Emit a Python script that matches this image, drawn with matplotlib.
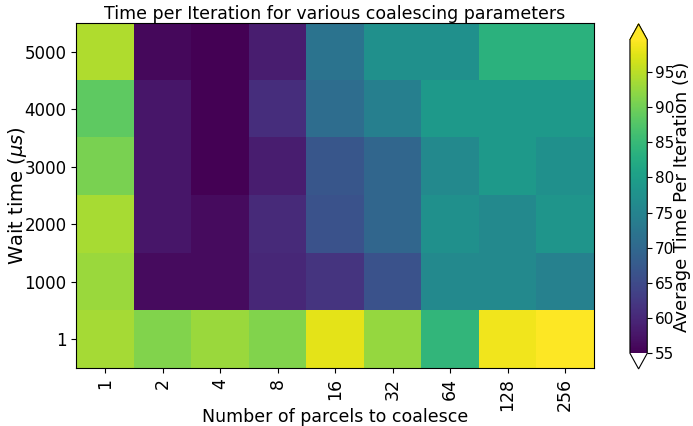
import numpy as np
import matplotlib
matplotlib.use("Agg")
import matplotlib.pyplot as plt

parcels = ["1", "2", "4", "8", "16", "32", "64", "128", "256"]
wait_times = ["1", "1000", "2000", "3000", "4000", "5000"]

# Average time per iteration (s); rows follow wait_times, columns follow parcels
t_wait_1 = [93.6, 91.1, 92.9, 91.1, 97.8, 92.5, 84.4, 98.7, 99.6]
t_wait_1000 = [92.9, 56.3, 56.3, 59.9, 61.7, 66.2, 76.0, 76.0, 74.6]
t_wait_2000 = [93.8, 57.7, 56.3, 60.4, 66.2, 69.7, 77.3, 76.0, 78.2]
t_wait_3000 = [90.7, 57.7, 55.0, 58.6, 67.0, 69.7, 76.0, 79.0, 77.3]
t_wait_4000 = [88.5, 57.7, 55.0, 60.8, 71.0, 74.2, 79.0, 79.0, 79.0]
t_wait_5000 = [94.2, 55.9, 55.0, 58.6, 72.0, 77.3, 77.3, 83.5, 83.5]

grid = np.array([t_wait_1, t_wait_1000, t_wait_2000,
                 t_wait_3000, t_wait_4000, t_wait_5000])

fig = plt.figure(figsize=(6.93, 4.26), dpi=100)
ax = fig.add_axes([0.110, 0.136, 0.747, 0.810])
cax = fig.add_axes([0.909, 0.134, 0.025, 0.810])

cmap = matplotlib.colormaps["viridis"].copy()
cmap.set_under("white")

im = ax.imshow(grid, origin="lower", aspect="auto", cmap=cmap,
               vmin=55, vmax=grid.max(), interpolation="nearest")

ax.set_xticks(np.arange(len(parcels)))
ax.set_xticklabels(parcels, rotation=90, fontsize=12.5)
ax.set_yticks(np.arange(len(wait_times)))
ax.set_yticklabels(wait_times, fontsize=12)
ax.set_xlabel("Number of parcels to coalesce", fontsize=12.5, labelpad=-2)
ax.set_ylabel(r"Wait time ($\mu s$)", fontsize=14, labelpad=-3)
ax.set_title("Time per Iteration for various coalescing parameters",
             fontsize=12.5, pad=1)

cb = fig.colorbar(im, cax=cax, extend="both")
cb.set_ticks([55, 60, 65, 70, 75, 80, 85, 90, 95])
cb.ax.tick_params(labelsize=11, pad=2)
cb.set_label("Average Time Per Iteration (s)", fontsize=13, labelpad=-1)

fig.savefig("out.png", dpi=100)
